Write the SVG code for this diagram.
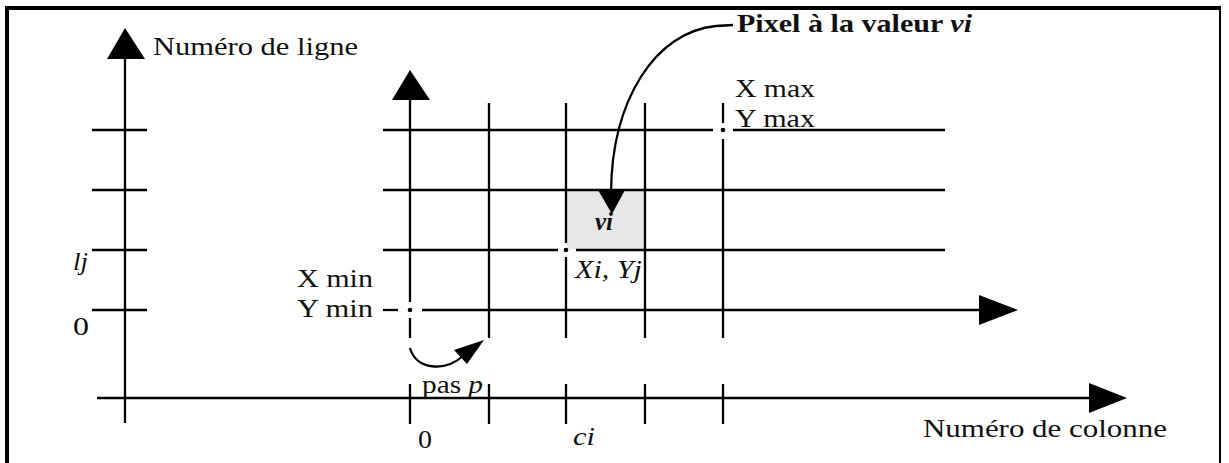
<svg xmlns="http://www.w3.org/2000/svg" width="1229" height="463" viewBox="0 0 1229 463">
<style>
.ln{stroke:#000;stroke-width:2.3;fill:none}
.ar{fill:#000;stroke:none}
.t{font-family:"Liberation Serif","Times New Roman",serif;font-size:25px;fill:#111}
.i{font-style:italic}
.b{font-weight:bold}
</style>
<rect x="0" y="0" width="1229" height="463" fill="#fff"/>
<g id="frame">
<path d="M7 463 V8 H1221" fill="none" stroke="#000" stroke-width="4"/>
<path d="M1220 8 V463" fill="none" stroke="#000" stroke-width="2"/>
</g>
<g id="cell-vi">
<rect x="567" y="191" width="77" height="58" fill="#e6e6e6"/>
<text class="t b i" x="595" y="230" textLength="18" lengthAdjust="spacingAndGlyphs" font-size="21">vi</text>
</g>
<g id="axis-lignes">
<line class="ln" x1="125" y1="58" x2="125" y2="423"/>
<polygon class="ar" points="125,28 107,59 145,59"/>
<line class="ln" x1="92" y1="130" x2="147" y2="130"/>
<line class="ln" x1="92" y1="190" x2="147" y2="190"/>
<line class="ln" x1="92" y1="250" x2="147" y2="250"/>
<line class="ln" x1="92" y1="310" x2="147" y2="310"/>
<text class="t" x="153" y="55" textLength="205" lengthAdjust="spacingAndGlyphs">Numéro de ligne</text>
<text class="t i" x="73" y="270" textLength="15" lengthAdjust="spacingAndGlyphs">lj</text>
<text class="t" x="73" y="335" textLength="16" lengthAdjust="spacingAndGlyphs">0</text>
</g>
<g id="axis-colonnes">
<line class="ln" x1="97" y1="398" x2="1090" y2="398"/>
<polygon class="ar" points="1127,398 1089,383 1089,413"/>
<line class="ln" x1="410" y1="384" x2="410" y2="424"/>
<line class="ln" x1="489" y1="384" x2="489" y2="424"/>
<line class="ln" x1="566" y1="384" x2="566" y2="424"/>
<line class="ln" x1="645" y1="384" x2="645" y2="424"/>
<line class="ln" x1="723" y1="384" x2="723" y2="424"/>
<text class="t" x="418" y="448" textLength="14" lengthAdjust="spacingAndGlyphs">0</text>
<text class="t i" x="573" y="445" textLength="22" lengthAdjust="spacingAndGlyphs">ci</text>
<text class="t" x="923" y="437" textLength="244" lengthAdjust="spacingAndGlyphs">Numéro de colonne</text>
</g>
<g id="grid">
<line class="ln" x1="410" y1="99" x2="410" y2="302"/>
<line class="ln" x1="410" y1="318" x2="410" y2="338"/>
<polygon class="ar" points="410,70 392,100 430,100"/>
<line class="ln" x1="489" y1="103" x2="489" y2="338"/>
<line class="ln" x1="566" y1="103" x2="566" y2="243"/>
<line class="ln" x1="566" y1="257" x2="566" y2="338"/>
<line class="ln" x1="645" y1="103" x2="645" y2="338"/>
<line class="ln" x1="723" y1="103" x2="723" y2="123"/>
<line class="ln" x1="723" y1="139" x2="723" y2="338"/>
<line class="ln" x1="383" y1="130" x2="713" y2="130"/>
<line class="ln" x1="733" y1="130" x2="945" y2="130"/>
<line class="ln" x1="383" y1="190" x2="945" y2="190"/>
<line class="ln" x1="383" y1="250" x2="558" y2="250"/>
<line class="ln" x1="576" y1="250" x2="945" y2="250"/>
<line class="ln" x1="383" y1="310" x2="398" y2="310"/>
<line class="ln" x1="422" y1="310" x2="980" y2="310"/>
<polygon class="ar" points="1018,310 979,295 979,325"/>
<circle cx="410" cy="310" r="2.3" fill="#000"/>
<circle cx="723" cy="130" r="2.3" fill="#000"/>
<circle cx="566" cy="250" r="2.3" fill="#000"/>
</g>
<g id="label-min">
<text class="t" x="297" y="287" textLength="76" lengthAdjust="spacingAndGlyphs">X min</text>
<text class="t" x="297" y="317" textLength="76" lengthAdjust="spacingAndGlyphs">Y min</text>
</g>
<g id="label-max">
<text class="t" x="735" y="97" textLength="80" lengthAdjust="spacingAndGlyphs">X max</text>
<text class="t" x="735" y="127" textLength="80" lengthAdjust="spacingAndGlyphs">Y max</text>
</g>
<g id="label-xiyj">
<text class="t i" x="575" y="278" textLength="67" lengthAdjust="spacingAndGlyphs">Xi, Yj</text>
</g>
<g id="label-pixel">
<text class="t b" x="737" y="32" textLength="235" lengthAdjust="spacingAndGlyphs" font-size="25">Pixel à la valeur  <tspan class="i">vi</tspan></text>
</g>
<g id="label-pas">
<text class="t" x="422" y="393" textLength="61" lengthAdjust="spacingAndGlyphs">pas <tspan class="i">p</tspan></text>
</g>
<g id="connectors">
<path class="ln" d="M733 25 L716 26 C655 32 612 100 611 192"/>
<polygon class="ar" points="612,214 598,190 625,190"/>
<path class="ln" d="M410 348 C416 370 445 372 463 356"/>
<polygon class="ar" points="484,340 454,350 467,364"/>
</g>
</svg>
